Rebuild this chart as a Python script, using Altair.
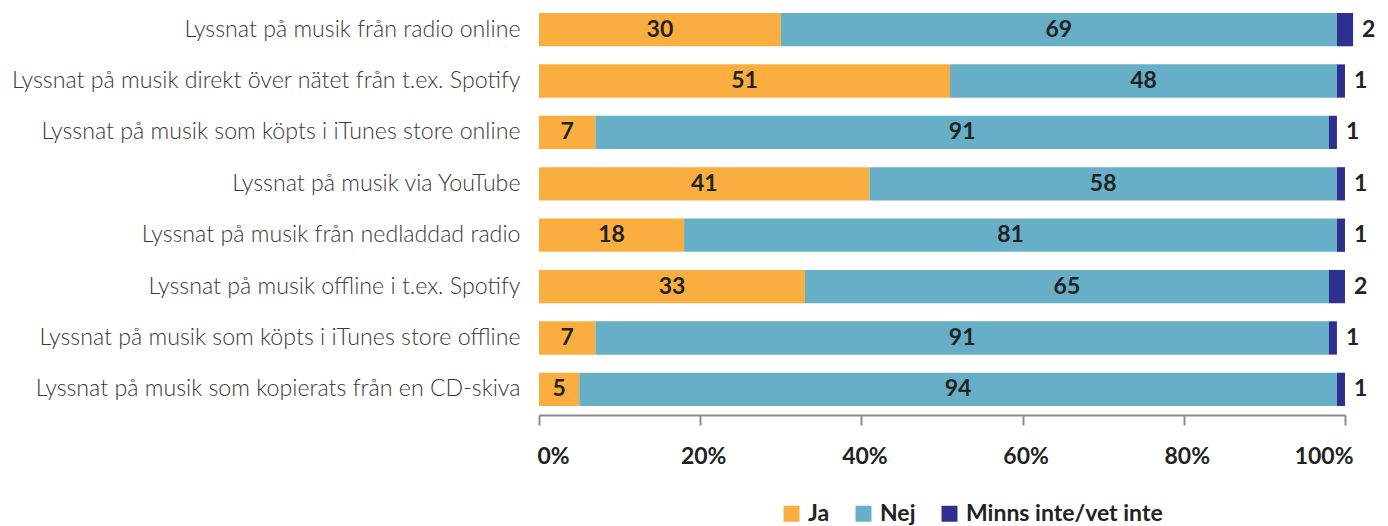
import altair as alt
import pandas as pd

categories = [
    "Lyssnat på musik från radio online",
    "Lyssnat på musik direkt över nätet från t.ex. Spotify",
    "Lyssnat på musik som köpts i iTunes store online",
    "Lyssnat på musik via YouTube",
    "Lyssnat på musik från nedladdad radio",
    "Lyssnat på musik offline i t.ex. Spotify",
    "Lyssnat på musik som köpts i iTunes store offline",
    "Lyssnat på musik som kopierats från en CD-skiva",
]
ja = [30, 51, 7, 41, 18, 33, 7, 5]
nej = [69, 48, 91, 58, 81, 65, 91, 94]
minns = [2, 1, 1, 1, 1, 2, 1, 1]

series = ["Ja", "Nej", "Minns inte/vet inte"]
colors = ["#FBAE40", "#67AFC6", "#2E3192"]
ticks = [0, 20, 40, 60, 80, 100]

rows = []
for i, c in enumerate(categories):
    for k, (s, vals) in enumerate(zip(series, [ja, nej, minns])):
        rows.append({"cat": c, "serie": s, "order": k, "value": vals[i]})
df = pd.DataFrame(rows)

FONT = "Lato"

base = alt.Chart(df).transform_stack(
    stack="value", groupby=["cat"], sort=[alt.SortField("order")], as_=["x0", "x1"]
).transform_calculate(mid="(datum.x0 + datum.x1) / 2")

yenc = alt.Y(
    "cat:N",
    sort=categories,
    title=None,
    scale=alt.Scale(paddingInner=0.352, paddingOuter=0.097),
    axis=alt.Axis(
        domain=False, ticks=False, labelFont=FONT, labelFontSize=23.2,
        labelFontWeight=300, labelColor="#383838", labelPadding=19,
        labelLimit=0, minExtent=531, maxExtent=531,
    ),
)

bars = base.mark_bar(stroke=None).encode(
    x=alt.X(
        "x0:Q",
        title=None,
        scale=alt.Scale(domain=[0, 100], nice=False),
        axis=alt.Axis(
            values=ticks, labelExpr="datum.value + '%'", grid=False,
            domainColor="#8C8C8C", domainWidth=2, tickColor="#8C8C8C",
            tickWidth=2, tickSize=10, offset=4, labelFont=FONT,
            labelFontSize=23, labelFontWeight="bold", labelColor="#222222",
            labelPadding=20, labelFlush=True, labelFlushOffset=5,
            labelOffset=3,
        ),
    ),
    x2="x1:Q",
    y=yenc,
    color=alt.Color(
        "serie:N",
        scale=alt.Scale(domain=series, range=colors),
        sort=series,
        legend=alt.Legend(
            title=None, orient="none", direction="horizontal",
            legendX=241, legendY=494, symbolType="square", symbolSize=256,
            symbolStrokeWidth=0, labelFont=FONT, labelFontSize=23,
            labelFontWeight="bold", labelColor="#222222", labelOffset=5,
            columnPadding=22, labelLimit=0,
        ),
    ),
)

inner = base.transform_filter("datum.order < 2").mark_text(
    font=FONT, fontSize=23, fontWeight="bold", color="#222222", baseline="middle"
).encode(x="mid:Q", y=alt.Y("cat:N", sort=categories), text="value:Q")

outer = base.transform_filter("datum.order == 2").mark_text(
    font=FONT, fontSize=23, fontWeight="bold", color="#222222",
    baseline="middle", align="left", dx=9
).encode(x="x1:Q", y=alt.Y("cat:N", sort=categories), text="value:Q")

chart = alt.layer(bars, inner, outer).properties(
    width=806, height=403, padding=0
).configure_view(stroke=None)

chart.save("out.html", embed_options={"renderer": "svg", "actions": False})
